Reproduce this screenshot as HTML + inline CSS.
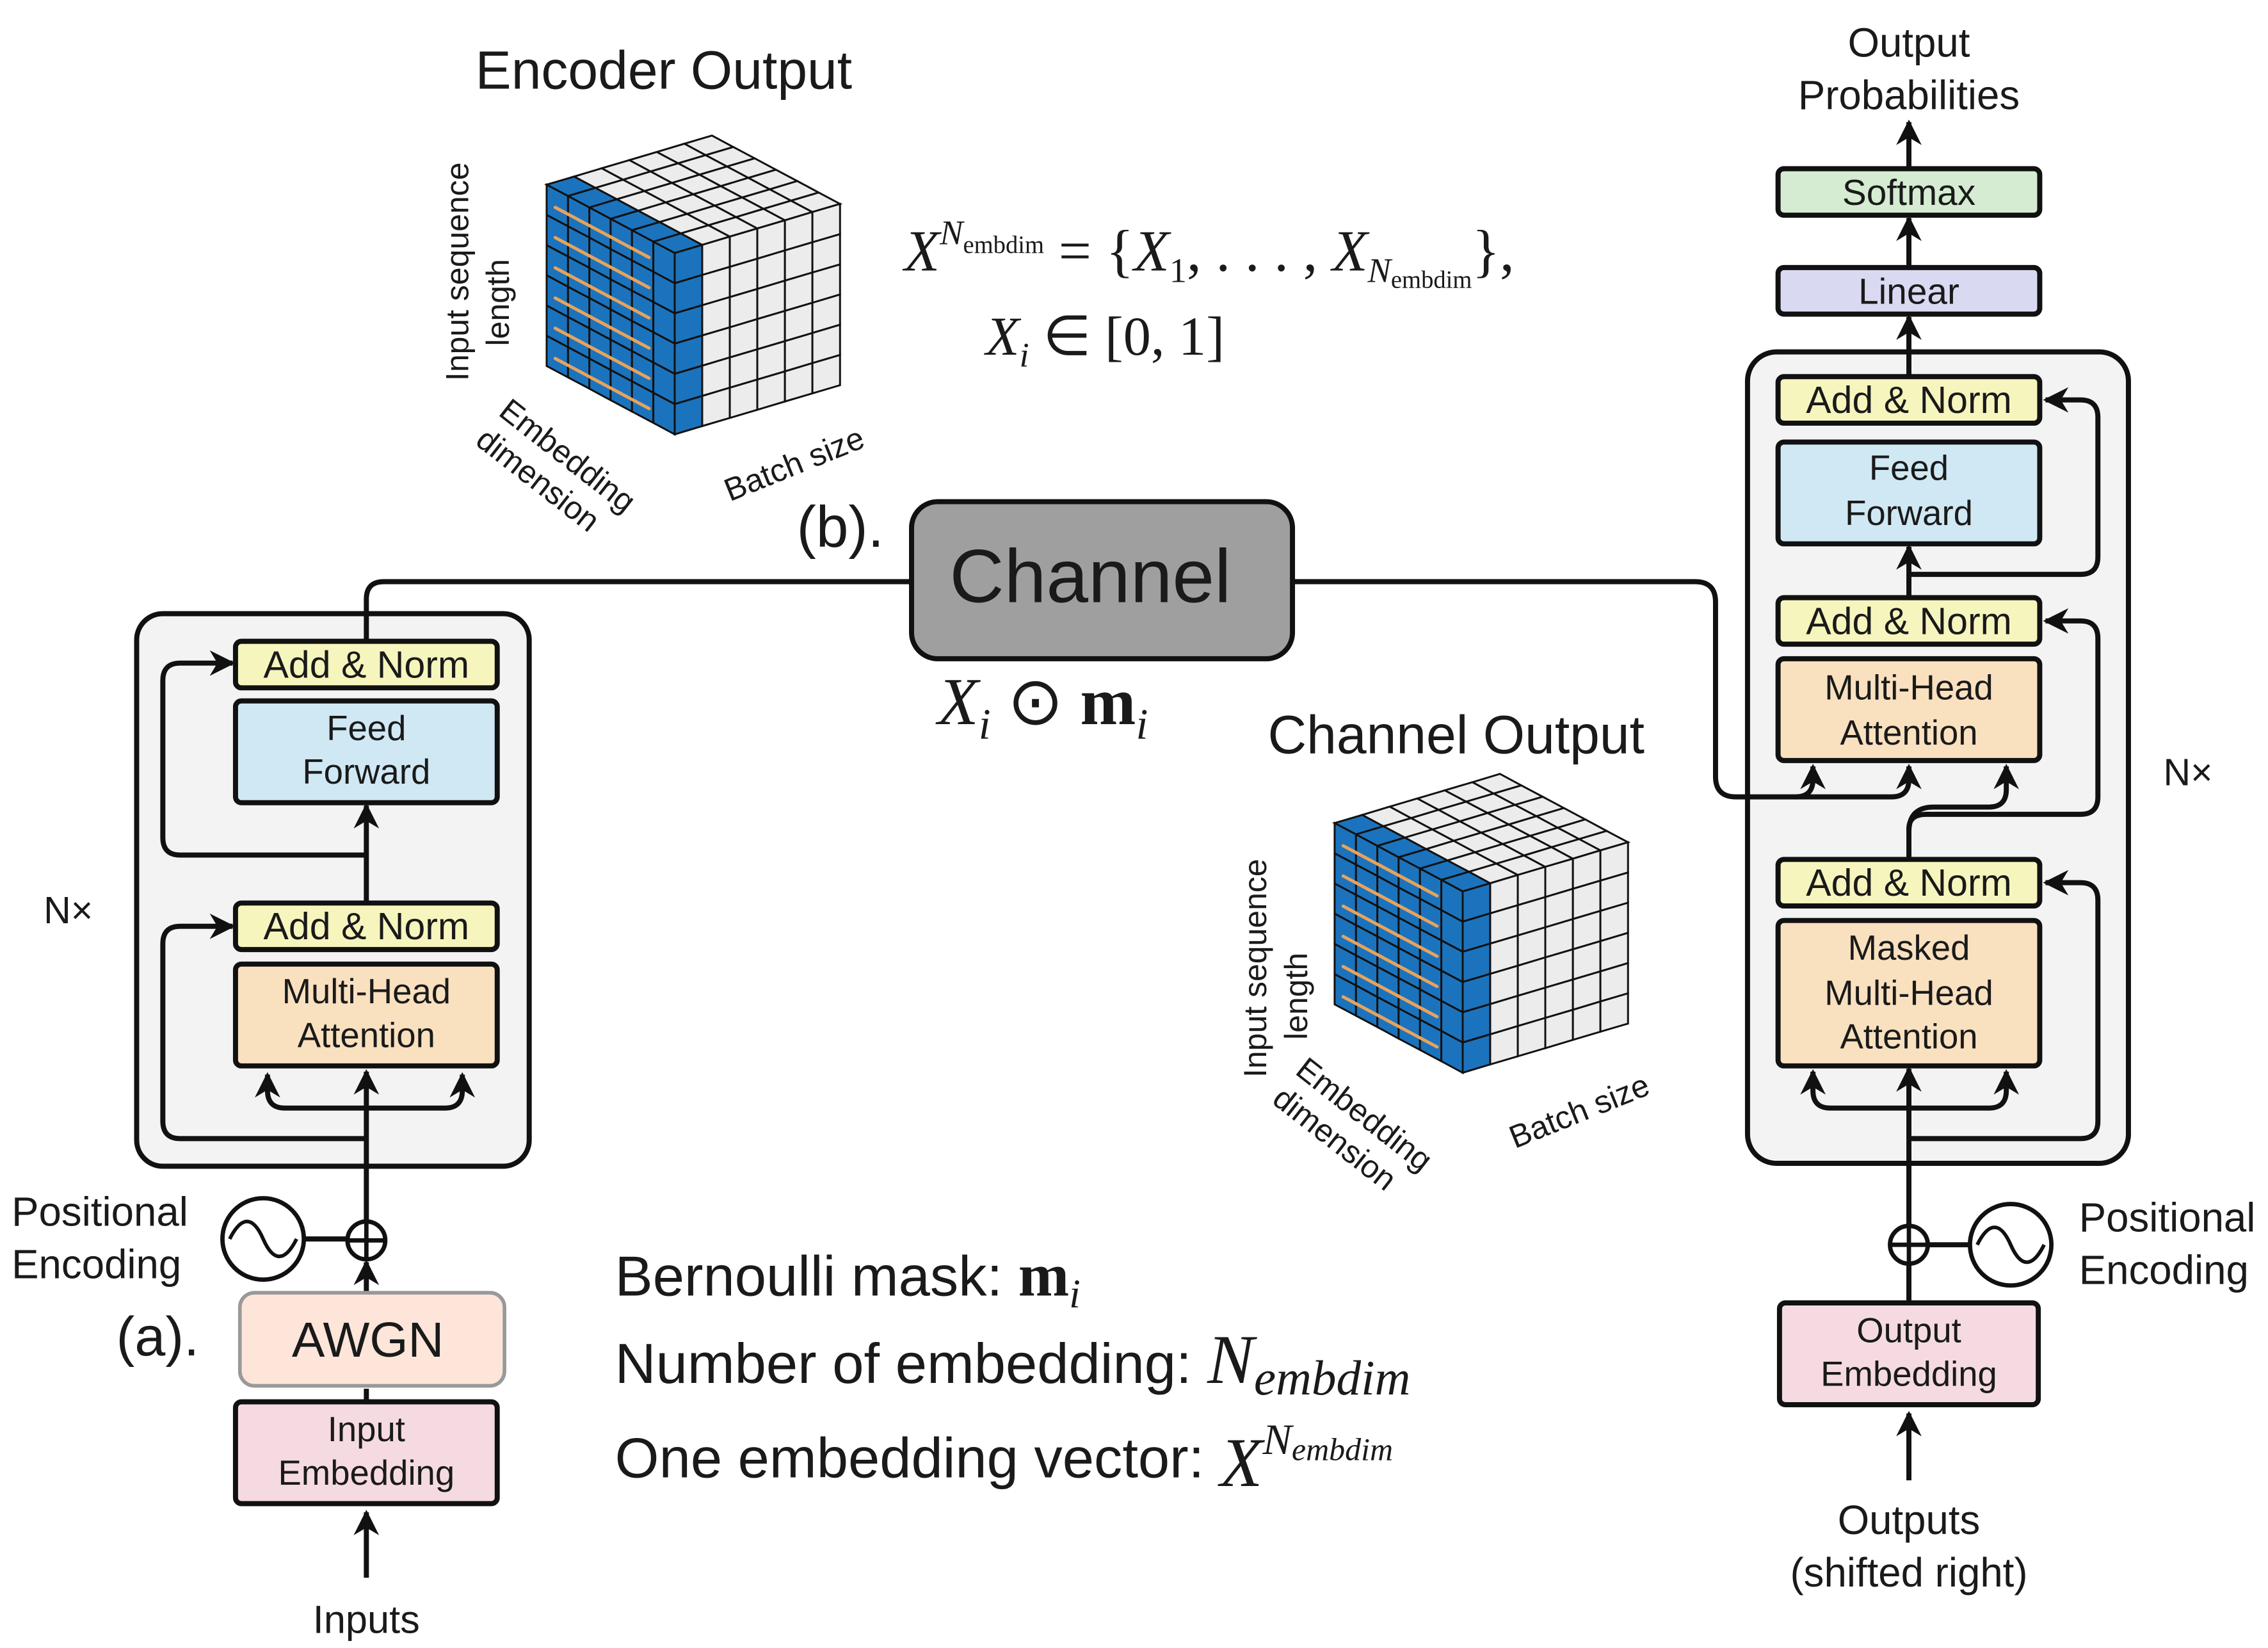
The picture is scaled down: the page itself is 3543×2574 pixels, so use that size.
<!DOCTYPE html>
<html><head><meta charset="utf-8">
<style>
html,body{margin:0;padding:0;background:#fff;}
svg{display:block;}
text{font-family:"Liberation Sans",sans-serif;fill:#1a1a1a;}
.m{font-family:"Liberation Serif",serif;}
</style></head>
<body>
<svg id="s" width="3543" height="2574" viewBox="0 0 1560 1133.3" preserveAspectRatio="none" xmlns="http://www.w3.org/2000/svg">
<defs>
<marker id="ah" viewBox="0 0 10 10" refX="9" refY="5" markerWidth="5" markerHeight="5" orient="auto-start-reverse">
<path d="M0,0 L10,5 L0,10 L3,5 z" fill="#111"/>
</marker>
</defs>
<rect width="1560" height="1134" fill="#fff"/>

<!-- ENCODER -->
<rect x="94" y="422" width="270" height="380" rx="18" fill="#f3f3f4" stroke="#111" stroke-width="3.5"/>
<g stroke="#111" stroke-width="3.5" fill="none">
<path d="M252,441 V412 Q252,400 264,400 H627"/>
<path d="M252,621 V554" marker-end="url(#ah)"/>
<path d="M252,588 H124 Q112,588 112,576 V468 Q112,456 124,456 H160" marker-end="url(#ah)"/>
<path d="M252,783 H124 Q112,783 112,771 V649 Q112,637 124,637 H160" marker-end="url(#ah)"/>
<path d="M252,866 V737" marker-end="url(#ah)"/>
<path d="M184,739 V750 Q184,762 196,762 H306 Q318,762 318,750 V739" marker-start="url(#ah)" marker-end="url(#ah)"/>
<path d="M252,889 V868" marker-end="url(#ah)"/>
<path d="M252,964 V955" />
<path d="M252,1085 V1040" marker-end="url(#ah)"/>
<path d="M209,852 H239"/>
</g>
<rect x="162" y="441" width="180" height="32" rx="4" fill="#f6f5bd" stroke="#111" stroke-width="3.5"/>
<text x="252" y="466" font-size="26" text-anchor="middle">Add &amp; Norm</text>
<rect x="162" y="482" width="180" height="70" rx="4" fill="#cfe8f4" stroke="#111" stroke-width="3.5"/>
<text x="252" y="509" font-size="24" text-anchor="middle">Feed</text>
<text x="252" y="539" font-size="24" text-anchor="middle">Forward</text>
<rect x="162" y="621" width="180" height="32" rx="4" fill="#f6f5bd" stroke="#111" stroke-width="3.5"/>
<text x="252" y="646" font-size="26" text-anchor="middle">Add &amp; Norm</text>
<rect x="162" y="663" width="180" height="70" rx="4" fill="#f9e0bf" stroke="#111" stroke-width="3.5"/>
<text x="252" y="690" font-size="24" text-anchor="middle">Multi-Head</text>
<text x="252" y="720" font-size="24" text-anchor="middle">Attention</text>
<rect x="165" y="889" width="182" height="64" rx="10" fill="#fde5da" stroke="#999" stroke-width="2.5"/>
<text x="253" y="933" font-size="34" text-anchor="middle">AWGN</text>
<rect x="162" y="964" width="180" height="70" rx="4" fill="#f5dbe1" stroke="#111" stroke-width="3.5"/>
<text x="252" y="991" font-size="24" text-anchor="middle">Input</text>
<text x="252" y="1021" font-size="24" text-anchor="middle">Embedding</text>
<circle cx="252" cy="853" r="13" fill="#fff" stroke="#111" stroke-width="3"/>
<path d="M239,853 H265 M252,840 V866" stroke="#111" stroke-width="3"/>
<circle cx="181" cy="852" r="28" fill="#fff" stroke="#111" stroke-width="3"/>
<path d="M158,852 C166,836 174,836 181,852 C188,868 196,868 204,852" fill="none" stroke="#111" stroke-width="2.5"/>
<text x="30" y="635" font-size="26">N×</text>
<text x="8" y="843" font-size="28">Positional</text>
<text x="8" y="879" font-size="28">Encoding</text>
<text x="80" y="932" font-size="38">(a).</text>
<text x="252" y="1123" font-size="27" text-anchor="middle">Inputs</text>

<!-- DECODER box (behind connectors) -->
<rect x="1202" y="242" width="262" height="558" rx="20" fill="#f3f3f4" stroke="#111" stroke-width="3.5"/>

<!-- CHANNEL -->
<g stroke="#111" stroke-width="3.5" fill="none">
<path d="M889,400 H1166 Q1180,400 1180,414 V534 Q1180,548 1194,548 H1235 Q1247,548 1247,536 V527" marker-end="url(#ah)"/>
<path d="M1235,548 H1301 Q1313,548 1313,536 V527" marker-end="url(#ah)"/>
</g>
<rect x="627" y="345" width="262" height="108" rx="18" fill="#9f9f9f" stroke="#111" stroke-width="3.5"/>
<text x="750" y="414" font-size="52" text-anchor="middle">Channel</text>
<text x="548" y="376" font-size="40">(b).</text>
<text x="645" y="498" font-size="46" class="m"><tspan font-style="italic">X</tspan><tspan font-size="30" font-style="italic" dy="10">i</tspan><tspan dy="-10"> ⊙ </tspan><tspan font-weight="bold">m</tspan><tspan font-size="30" font-style="italic" dy="10">i</tspan></text>

<!-- formulas -->
<text x="622" y="186" font-size="40" class="m"><tspan font-style="italic">X</tspan><tspan font-size="24" font-style="italic" dy="-18">N</tspan><tspan font-size="17" dy="6">embdim</tspan><tspan dy="12"> = {</tspan><tspan font-style="italic">X</tspan><tspan font-size="24" dy="8">1</tspan><tspan dy="-8">, . . . , </tspan><tspan font-style="italic">X</tspan><tspan font-size="24" font-style="italic" dy="8">N</tspan><tspan font-size="17" dy="4">embdim</tspan><tspan dy="-12">},</tspan></text>
<text x="678" y="244" font-size="38" class="m"><tspan font-style="italic">X</tspan><tspan font-size="24" font-style="italic" dy="8">i</tspan><tspan dy="-8"> ∈ [0, 1]</tspan></text>

<text x="327" y="61" font-size="37">Encoder Output</text>
<text x="872" y="518" font-size="37">Channel Output</text>

<text x="423" y="891" font-size="39">Bernoulli mask: <tspan class="m" font-weight="bold" font-size="42">m</tspan><tspan class="m" font-style="italic" font-size="28" dy="8">i</tspan></text>
<text x="423" y="951" font-size="39">Number of embedding: <tspan class="m" font-style="italic" font-size="48">N</tspan><tspan class="m" font-style="italic" font-size="34" dy="8">embdim</tspan></text>
<text x="423" y="1016" font-size="39">One embedding vector: <tspan class="m" font-style="italic" font-size="48" dy="6">X</tspan><tspan class="m" font-style="italic" font-size="30" dy="-22">N</tspan><tspan class="m" font-style="italic" font-size="22" dy="4">embdim</tspan></text>

<!-- cubes -->
<g id="c1"></g>
<g id="c2"></g>
<text transform="translate(322,262) rotate(-90)" font-size="22">Input sequence</text>
<text transform="translate(350,238) rotate(-90)" font-size="22">length</text>
<text transform="translate(342,285) rotate(38)" font-size="22">Embedding</text>
<text transform="translate(326,305) rotate(38)" font-size="22">dimension</text>
<text transform="translate(502,345) rotate(-22)" font-size="22">Batch size</text>
<text transform="translate(871,741) rotate(-90)" font-size="22">Input sequence</text>
<text transform="translate(899,715) rotate(-90)" font-size="22">length</text>
<text transform="translate(890,738) rotate(38)" font-size="22">Embedding</text>
<text transform="translate(874,758) rotate(38)" font-size="22">dimension</text>
<text transform="translate(1042,790) rotate(-22)" font-size="22">Batch size</text>

<!-- DECODER -->
<g stroke="#111" stroke-width="3.5" fill="none">
<path d="M1313,1018 V972" marker-end="url(#ah)"/>
<path d="M1313,896 V869"/>
<path d="M1313,843 V735" marker-end="url(#ah)"/>
<path d="M1247,737 V750 Q1247,762 1259,762 H1368 Q1380,762 1380,750 V737" marker-start="url(#ah)" marker-end="url(#ah)"/>
<path d="M1313,783 H1431 Q1443,783 1443,771 V619 Q1443,607 1431,607 H1407" marker-end="url(#ah)"/>
<path d="M1313,591 V570 Q1313,560 1325,560 H1431 Q1443,560 1443,548 V439 Q1443,427 1431,427 H1407" marker-end="url(#ah)"/>
<path d="M1313,572 Q1313,555 1330,555 H1368 Q1380,555 1380,543 V527" marker-end="url(#ah)"/>
<path d="M1313,411 V376" marker-end="url(#ah)"/>
<path d="M1313,395 H1431 Q1443,395 1443,383 V287 Q1443,275 1431,275 H1407" marker-end="url(#ah)"/>
<path d="M1313,259 V218" marker-end="url(#ah)"/>
<path d="M1313,184 V150" marker-end="url(#ah)"/>
<path d="M1313,116 V84" marker-end="url(#ah)"/>
<path d="M1326,856 H1355"/>
</g>
<rect x="1223" y="116" width="180" height="32" rx="4" fill="#d5ecd2" stroke="#111" stroke-width="3.5"/>
<text x="1313" y="141" font-size="25" text-anchor="middle">Softmax</text>
<rect x="1223" y="184" width="180" height="32" rx="4" fill="#d9daf2" stroke="#111" stroke-width="3.5"/>
<text x="1313" y="209" font-size="25" text-anchor="middle">Linear</text>
<rect x="1223" y="259" width="180" height="32" rx="4" fill="#f6f5bd" stroke="#111" stroke-width="3.5"/>
<text x="1313" y="284" font-size="26" text-anchor="middle">Add &amp; Norm</text>
<rect x="1223" y="304" width="180" height="70" rx="4" fill="#cfe8f4" stroke="#111" stroke-width="3.5"/>
<text x="1313" y="330" font-size="24" text-anchor="middle">Feed</text>
<text x="1313" y="361" font-size="24" text-anchor="middle">Forward</text>
<rect x="1223" y="411" width="180" height="32" rx="4" fill="#f6f5bd" stroke="#111" stroke-width="3.5"/>
<text x="1313" y="436" font-size="26" text-anchor="middle">Add &amp; Norm</text>
<rect x="1223" y="453" width="180" height="70" rx="4" fill="#f9e0bf" stroke="#111" stroke-width="3.5"/>
<text x="1313" y="481" font-size="24" text-anchor="middle">Multi-Head</text>
<text x="1313" y="512" font-size="24" text-anchor="middle">Attention</text>
<rect x="1223" y="591" width="180" height="32" rx="4" fill="#f6f5bd" stroke="#111" stroke-width="3.5"/>
<text x="1313" y="616" font-size="26" text-anchor="middle">Add &amp; Norm</text>
<rect x="1223" y="633" width="180" height="100" rx="4" fill="#f9e0bf" stroke="#111" stroke-width="3.5"/>
<text x="1313" y="660" font-size="24" text-anchor="middle">Masked</text>
<text x="1313" y="691" font-size="24" text-anchor="middle">Multi-Head</text>
<text x="1313" y="721" font-size="24" text-anchor="middle">Attention</text>
<rect x="1224" y="896" width="178" height="70" rx="4" fill="#f5dbe1" stroke="#111" stroke-width="3.5"/>
<text x="1313" y="923" font-size="24" text-anchor="middle">Output</text>
<text x="1313" y="953" font-size="24" text-anchor="middle">Embedding</text>
<circle cx="1313" cy="856" r="13" fill="#fff" stroke="#111" stroke-width="3"/>
<path d="M1300,856 H1326 M1313,843 V869" stroke="#111" stroke-width="3"/>
<circle cx="1383" cy="856" r="28" fill="#fff" stroke="#111" stroke-width="3"/>
<path d="M1360,856 C1368,840 1376,840 1383,856 C1390,872 1398,872 1406,856" fill="none" stroke="#111" stroke-width="2.5"/>
<text x="1488" y="540" font-size="26">N×</text>
<text x="1430" y="847" font-size="28">Positional</text>
<text x="1430" y="883" font-size="28">Encoding</text>
<text x="1313" y="39" font-size="28" text-anchor="middle">Output</text>
<text x="1313" y="75" font-size="28" text-anchor="middle">Probabilities</text>
<text x="1313" y="1055" font-size="28" text-anchor="middle">Outputs</text>
<text x="1313" y="1091" font-size="28" text-anchor="middle">(shifted right)</text>
</svg>
<script>
(function(){
function cube(g,ax,ay){
  var u=[14.68,7.83],v=[18.95,-5.63],w=[0,20.78];
  var s="";
  function P(i,j,k){return [ax+i*u[0]+j*v[0]+k*w[0],ay+i*u[1]+j*v[1]+k*w[1]];}
  function poly(pts,fill){s+='<polygon points="'+pts.map(function(p){return p[0].toFixed(1)+','+p[1].toFixed(1)}).join(' ')+'" fill="'+fill+'" stroke="#111" stroke-width="1.3"/>';}
  var B="#1c73bd",G="#ececec";
  for(var i=0;i<6;i++)for(var j=0;j<6;j++)poly([P(i,j,0),P(i+1,j,0),P(i+1,j+1,0),P(i,j+1,0)],j==0?B:G);
  for(var i=0;i<6;i++)for(var k=0;k<6;k++)poly([P(i,0,k),P(i+1,0,k),P(i+1,0,k+1),P(i,0,k+1)],B);
  for(var j=0;j<6;j++)for(var k=0;k<6;k++)poly([P(6,j,k),P(6,j+1,k),P(6,j+1,k+1),P(6,j,k+1)],j==0?B:G);
  for(var k=0;k<6;k++){var a=P(0.4,0,k+0.6),b=P(4.8,0,k+0.6);
    s+='<line x1="'+a[0]+'" y1="'+a[1]+'" x2="'+b[0]+'" y2="'+b[1]+'" stroke="#e9a35a" stroke-width="2.2" stroke-linecap="round"/>';}
  g.innerHTML=s;
}
cube(document.getElementById("c1"),376,127);
cube(document.getElementById("c2"),918,566);
})();
</script>
</body></html>
